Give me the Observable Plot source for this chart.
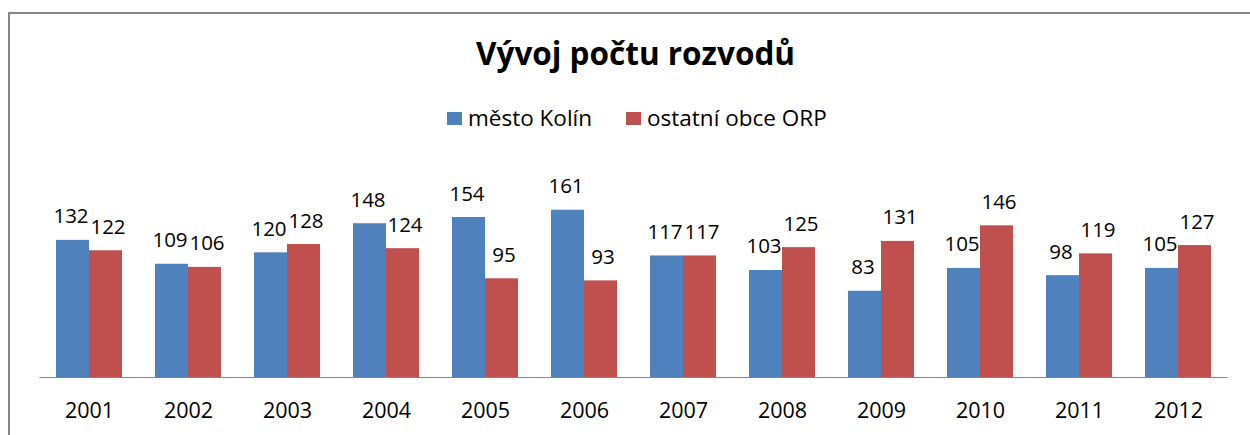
<!DOCTYPE html>
<html><head><meta charset="utf-8">
<script src="https://cdn.jsdelivr.net/npm/d3@7"></script>
<script src="https://cdn.jsdelivr.net/npm/@observablehq/plot@0.6"></script>
<style>
body{margin:0;background:#fff;width:1250px;height:435px;overflow:hidden;position:relative;font-family:"Open Sans",sans-serif;color:#000}
#frame{position:absolute;left:8px;top:12px;width:1300px;height:500px;border-top:2px solid #868686;border-left:2px solid #868686;box-sizing:border-box}
#title{position:absolute;left:0;width:1271px;top:37px;text-align:center;font-weight:bold;font-size:31.5px;line-height:31.5px;white-space:nowrap}
#legend{position:absolute;left:447px;top:105px;display:flex;align-items:center;font-size:22.5px;line-height:26px;white-space:nowrap}
#legend .item{display:flex;align-items:center;margin-right:34px}
#legend .sw{width:15px;height:13px;margin-right:6px}
#chart{position:absolute;left:0;top:150px}
</style></head>
<body>
<div id="frame"></div>
<div id="title">Vývoj počtu rozvodů</div>
<div id="legend"></div>
<div id="chart"></div>
<script>
const years = ["2001","2002","2003","2004","2005","2006","2007","2008","2009","2010","2011","2012"];
const kolin = [132,109,120,148,154,161,117,103,83,105,98,105];
const ostatni = [122,106,128,124,95,93,117,125,131,146,119,127];
const seriesNames = ["město Kolín","ostatní obce ORP"];
const colors = ["#4F81BD","#C0504D"];

const data = years.flatMap((y,i)=>[
  {year:y, series:seriesNames[0], value:kolin[i]},
  {year:y, series:seriesNames[1], value:ostatni[i]}
]);

const legend = document.getElementById("legend");
seriesNames.forEach((s,i)=>{
  const it = document.createElement("div"); it.className="item";
  const sw = document.createElement("span"); sw.className="sw"; sw.style.background=colors[i];
  const tx = document.createElement("span"); tx.textContent=s;
  it.append(sw,tx); legend.append(it);
});

const labelOpts = {fx:"year", x:"series", y:"value", text:"value", dy:-17, lineAnchor:"bottom", fill:"#000", fontSize:20.5};
const chart = Plot.plot({
  width:1250, height:285,
  marginTop:40, marginBottom:58, marginLeft:36, marginRight:18,
  fx:{domain:years, paddingInner:0.33, paddingOuter:0.165, label:null},
  x:{domain:seriesNames, padding:0, axis:null},
  y:{domain:[0,180], axis:null},
  color:{domain:seriesNames, range:colors},
  style:{fontFamily:"Open Sans", fontSize:"21px", background:"transparent", color:"#000"},
  marks:[
    Plot.barY(data,{fx:"year", x:"series", y:"value", fill:"series"}),
    Plot.ruleY([0],{stroke:"#868686", strokeWidth:1.2, insetLeft:-16.6, insetRight:-16.6}),
    Plot.text(data.filter(d=>d.series===seriesNames[0]),{...labelOpts, dx:-2}),
    Plot.text(data.filter(d=>d.series===seriesNames[1]),{...labelOpts, dx:2}),
    Plot.axisFx({anchor:"bottom", tickSize:0, tickPadding:25, fontSize:21.5, label:null, fill:"#000"})
  ]
});
document.getElementById("chart").append(chart);
</script>
</body></html>
